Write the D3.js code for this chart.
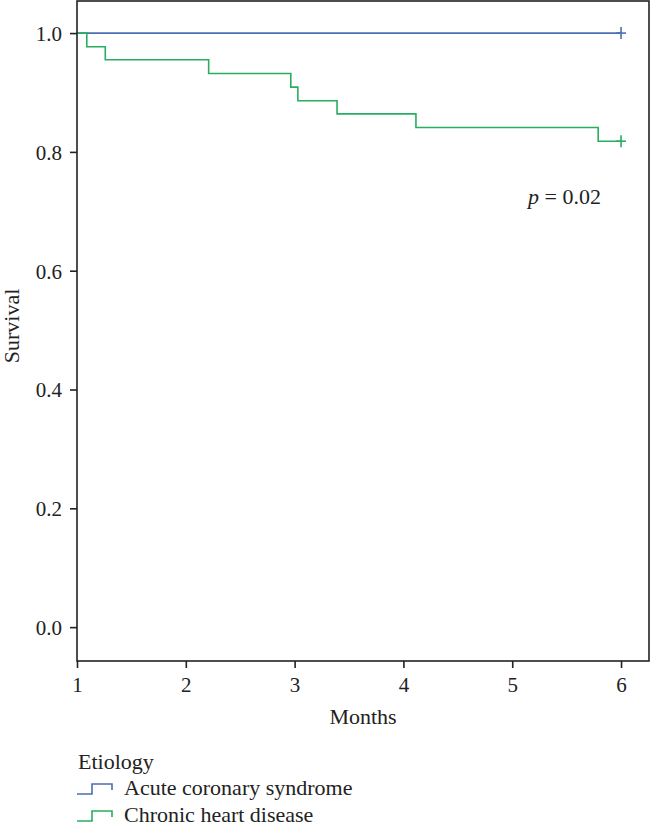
<!DOCTYPE html>
<html><head><meta charset="utf-8">
<script src="https://cdn.jsdelivr.net/npm/d3@7"></script>
<style>body{margin:0;background:#fff}svg{display:block}svg text{font-family:"Liberation Serif","Times New Roman","DejaVu Serif",serif}</style>
</head><body>
<script>
// Data
const seriesNames = ["Acute coronary syndrome", "Chronic heart disease"];
const seriesColors = ["#4a6fb3", "#27ae60"];
const acsTimes = [1, 6];
const acsSurv = [1.0, 1.0];
const chdTimes = [1, 1.09, 1.26, 2.21, 2.965, 3.03, 3.39, 4.115, 5.79, 6];
const chdSurv = [1.0, 0.977, 0.955, 0.932, 0.909, 0.886, 0.864, 0.841, 0.818, 0.818];
const xTicks = [1, 2, 3, 4, 5, 6];
const yTicks = [0.0, 0.2, 0.4, 0.6, 0.8, 1.0];
const pText = "0.02";

const W = 650, H = 827;
const font = '"Liberation Serif","Times New Roman","DejaVu Serif",serif';
const svg = d3.select("body").append("svg").attr("width", W).attr("height", H);

const x = d3.scaleLinear().domain([1, 6.257]).range([77, 649]);
const y = d3.scaleLinear().domain([-0.057, 1.054]).range([661, 1]);

const series = [
  {name: seriesNames[0], color: seriesColors[0], pts: acsTimes.map((t, i) => [t, acsSurv[i]])},
  {name: seriesNames[1], color: seriesColors[1], pts: chdTimes.map((t, i) => [t, chdSurv[i]])}
];

const line = d3.line().x(d => x(d[0])).y(d => y(d[1])).curve(d3.curveStepAfter);

series.forEach(s => {
  svg.append("path").datum(s.pts).attr("d", line)
    .attr("fill", "none").attr("stroke", s.color).attr("stroke-width", 1.6);
  const last = s.pts[s.pts.length - 1];
  const cx = x(last[0]), cy = y(last[1]);
  svg.append("line").attr("x1", cx).attr("x2", cx).attr("y1", cy - 6).attr("y2", cy + 6)
    .attr("stroke", s.color).attr("stroke-width", 1.6);
  svg.append("line").attr("x1", cx - 5).attr("x2", cx + 5).attr("y1", cy).attr("y2", cy)
    .attr("stroke", s.color).attr("stroke-width", 1.6);
});

// Frame
svg.append("rect").attr("x", x.range()[0]).attr("y", y.range()[1])
  .attr("width", x.range()[1] - x.range()[0]).attr("height", y.range()[0] - y.range()[1])
  .attr("fill", "none").attr("stroke", "#222").attr("stroke-width", 1.6);

// Axes
const xAxis = svg.append("g").attr("transform", `translate(0,${y.range()[0]})`)
  .call(d3.axisBottom(x).tickValues(xTicks).tickFormat(d3.format("d")).tickSize(7).tickPadding(6));
const yAxis = svg.append("g").attr("transform", `translate(${x.range()[0]},0)`)
  .call(d3.axisLeft(y).tickValues(yTicks).tickFormat(d3.format(".1f")).tickSize(7).tickPadding(8));
[xAxis, yAxis].forEach(g => {
  g.attr("font-family", font).attr("font-size", 21);
  g.select(".domain").remove();
  g.selectAll(".tick line").attr("stroke", "#222").attr("stroke-width", 1.6);
  g.selectAll(".tick text").attr("fill", "#222");
});
xAxis.selectAll(".tick text").attr("dy", "0.85em");
yAxis.selectAll(".tick text").attr("dy", "0.35em");

function txt(xp, yp, s, anchor) {
  return svg.append("text").attr("x", xp).attr("y", yp).attr("fill", "#222")
    .attr("font-family", font).attr("font-size", 22).attr("text-anchor", anchor || "start").text(s);
}

// Axis titles
txt((x(1) + x(6)) / 2 + 14, 724, "Months", "middle");
txt(0, 0, "Survival", "middle").attr("x", null).attr("y", null)
  .attr("transform", `translate(19,326) rotate(-90)`);

// p-value
const pt = txt(528, 204, "");
pt.append("tspan").attr("font-style", "italic").text("p");
pt.append("tspan").text(" = " + pText);

// Legend
txt(78, 769, "Etiology");
series.forEach((s, i) => {
  const by = 795 + i * 27;
  const sy = by - 1;
  svg.append("path")
    .attr("d", `M77,${sy} H92 V${sy - 10} H112 V${sy - 4}`)
    .attr("fill", "none").attr("stroke", s.color).attr("stroke-width", 1.6);
  txt(124, by, s.name);
});
</script>
</body></html>
